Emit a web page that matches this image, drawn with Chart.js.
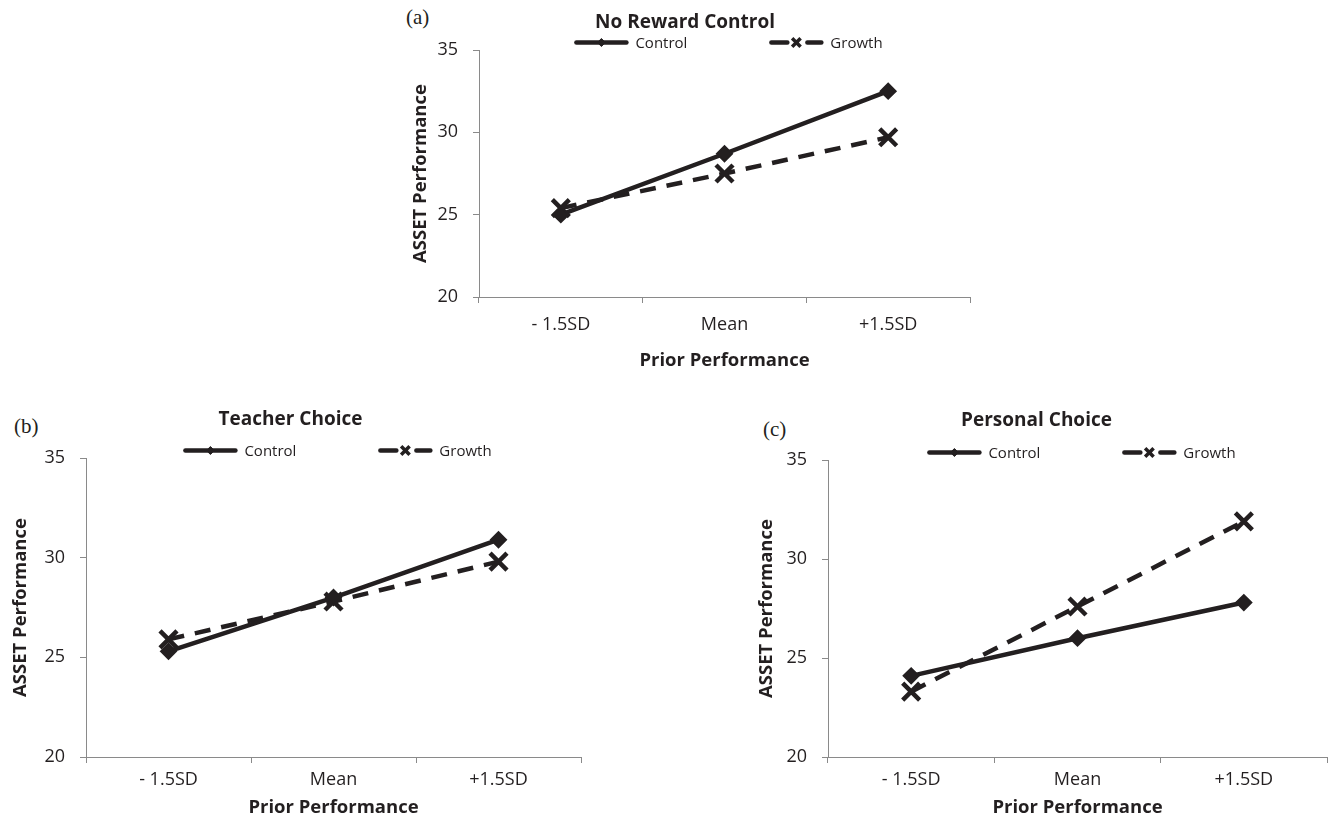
<!DOCTYPE html>
<html>
<head>
<meta charset="utf-8">
<script src="https://cdn.jsdelivr.net/npm/chart.js"></script>
<style>
html, body { margin: 0; padding: 0; background: #fff; overflow: hidden; width: 1334px; height: 822px; }
.box { position: absolute; }
.tag { position: absolute; font-family: "Liberation Serif", "DejaVu Serif", serif; font-size: 21px; line-height: 24px; color: #231f20; }
</style>
</head>
<body>
<div class="tag" style="left:406px; top:5px">(a)</div>
<div class="tag" style="left:14px; top:414px">(b)</div>
<div class="tag" style="left:763px; top:417px">(c)</div>

<div class="box" style="left:400px; top:0; width:596px; height:380px"><canvas id="chartA"></canvas></div>
<div class="box" style="left:0; top:390px; width:616px; height:432px"><canvas id="chartB"></canvas></div>
<div class="box" style="left:746px; top:390px; width:614px; height:432px"><canvas id="chartC"></canvas></div>

<script>
// values
var categories = ['- 1.5SD', 'Mean', '+1.5SD'];
var yTicks = [20, 25, 30, 35];

var noRewardControl = [25.0, 28.7, 32.5];
var noRewardGrowth = [25.4, 27.5, 29.7];

var teacherControl = [25.3, 28.0, 30.9];
var teacherGrowth = [25.9, 27.8, 29.8];

var personalControl = [24.1, 26.0, 27.8];
var personalGrowth = [23.3, 27.6, 31.9];

var ink = '#231f20';
var axisGray = '#8a8a8a';
Chart.defaults.font.family = '"Open Sans", "Noto Sans", sans-serif';
Chart.defaults.color = ink;

// legend drawn as line sample + marker, like the Excel one
var lineLegend = {
    id: 'lineLegend',
    afterDraw: function (chart, args, opts) {
        var ctx = chart.ctx;
        var area = chart.chartArea;
        var y = area.top - opts.offsetY;
        ctx.save();
        ctx.font = '15px "Open Sans", "Noto Sans", sans-serif';
        ctx.textBaseline = 'middle';
        ctx.textAlign = 'left';
        var sampleW = 54, textGap = 7, itemGap = 82;
        var items = chart.data.datasets.map(function (ds) {
            return { ds: ds, tw: ctx.measureText(ds.label).width };
        });
        var total = 0;
        items.forEach(function (it) { total += sampleW + textGap + it.tw; });
        total += itemGap * (items.length - 1);
        var x = (area.left + area.right) / 2 + opts.shiftX - total / 2;
        items.forEach(function (it) {
            var ds = it.ds;
            ctx.strokeStyle = ds.borderColor;
            ctx.fillStyle = ds.borderColor;
            ctx.lineWidth = 4.5;
            ctx.lineCap = 'round';
            ctx.setLineDash(ds.borderDash ? [16, 20] : []);
            ctx.beginPath();
            ctx.moveTo(x + 2, y);
            ctx.lineTo(x + sampleW - 2, y);
            ctx.stroke();
            ctx.setLineDash([]);
            ctx.lineCap = 'butt';
            if (ds.pointStyle === 'crossRot') {
                ctx.lineWidth = 3.5;
                Chart.helpers.drawPoint(ctx, { pointStyle: 'crossRot', radius: 6, borderWidth: 3.5, rotation: 0 }, x + sampleW / 2, y);
            } else {
                ctx.lineWidth = 1;
                Chart.helpers.drawPoint(ctx, { pointStyle: 'rectRot', radius: 4, borderWidth: 1, rotation: 0 }, x + sampleW / 2, y);
            }
            ctx.fillStyle = ink;
            ctx.fillText(ds.label, x + sampleW + textGap, y + 1);
            x += sampleW + textGap + it.tw + itemGap;
        });
        ctx.restore();
    }
};

function makeChart(id, title, control, growth, cfg) {
    return new Chart(document.getElementById(id), {
        type: 'line',
        plugins: [lineLegend],
        data: {
            labels: categories,
            datasets: [{
                label: 'Control',
                data: control,
                borderColor: ink,
                backgroundColor: ink,
                borderWidth: 4.5,
                pointStyle: 'rectRot',
                pointRadius: 7.5,
                pointBorderWidth: 2,
                tension: 0
            }, {
                label: 'Growth',
                data: growth,
                borderColor: ink,
                backgroundColor: ink,
                borderWidth: 4.5,
                borderDash: [16, 11],
                pointStyle: 'crossRot',
                pointRadius: 12,
                pointBorderWidth: 4.5,
                tension: 0
            }]
        },
        options: {
            responsive: true,
            maintainAspectRatio: false,
            animation: false,
            layout: { padding: { left: 0, right: cfg.padRight, top: 0, bottom: 0 } },
            plugins: {
                legend: { display: false },
                tooltip: { enabled: false },
                title: {
                    display: true,
                    text: title,
                    color: ink,
                    font: { size: 19, weight: 'bold' },
                    padding: { top: cfg.titleTop, bottom: cfg.titleBottom }
                },
                lineLegend: { offsetY: 7.5, shiftX: 4 }
            },
            scales: {
                x: {
                    offset: true,
                    grid: { offset: true, drawOnChartArea: false, color: axisGray, tickLength: 6 },
                    border: { color: axisGray },
                    ticks: { color: ink, font: { size: 18 }, padding: cfg.xTickPad, maxRotation: 0 },
                    title: {
                        display: true,
                        text: 'Prior Performance',
                        color: ink,
                        font: { size: 18.5, weight: 'bold' },
                        padding: { top: 0, bottom: cfg.xTitlePad }
                    },
                    afterFit: function (s) { s.height = cfg.xHeight; }
                },
                y: {
                    min: yTicks[0],
                    max: yTicks[yTicks.length - 1],
                    ticks: { stepSize: yTicks[1] - yTicks[0], color: ink, font: { size: 18 }, padding: 15 },
                    grid: { drawOnChartArea: false, color: axisGray, tickLength: 6 },
                    border: { color: axisGray },
                    title: {
                        display: true,
                        text: 'ASSET Performance',
                        color: ink,
                        font: { size: 18.5, weight: 'bold' },
                        padding: { top: 9.6, bottom: 0 }
                    },
                    afterFit: function (s) { s.width = cfg.yWidth; }
                }
            }
        }
    });
}

makeChart('chartA', 'No Reward Control', noRewardControl, noRewardGrowth,
    { padRight: 26, titleTop: 11, titleBottom: 16.2, xHeight: 83, xTickPad: 11, xTitlePad: 7.9, yWidth: 79 });
makeChart('chartB', 'Teacher Choice', teacherControl, teacherGrowth,
    { padRight: 35, titleTop: 18.6, titleBottom: 26.6, xHeight: 65, xTickPad: 5.7, xTitlePad: 2.9, yWidth: 86 });
makeChart('chartC', 'Personal Choice', personalControl, personalGrowth,
    { padRight: 33, titleTop: 19.6, titleBottom: 27.6, xHeight: 65, xTickPad: 5.7, xTitlePad: 2.9, yWidth: 82 });
</script>
</body>
</html>
